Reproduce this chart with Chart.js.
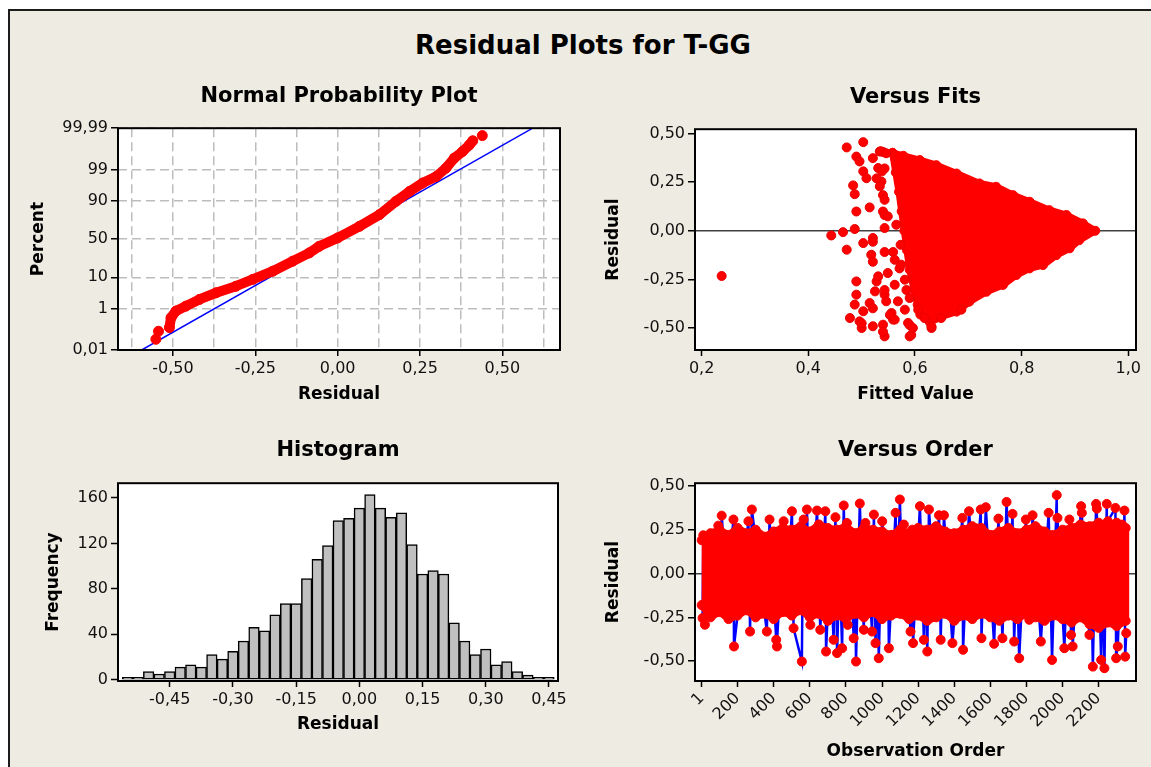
<!DOCTYPE html>
<html>
<head>
<meta charset="utf-8">
<title>Residual Plots for T-GG</title>
<script src="https://cdn.jsdelivr.net/npm/chart.js@4.4.1/dist/chart.umd.min.js"></script>
<style>
  html, body { margin:0; padding:0; background:#fff; }
  body { width:1151px; height:767px; overflow:hidden; position:relative; font-family:'DejaVu Sans', Verdana, sans-serif; }
  #frame { position:absolute; left:8px; top:9px; width:1160px; height:780px; border:2px solid #1c1c1c; background:#EEEBE2; }
  #title { position:absolute; left:8px; width:1150px; top:29px; text-align:center; font-size:26px; font-weight:bold; line-height:32px; color:#000; }
  canvas { position:absolute; }
</style>
</head>
<body>
<div id="frame"></div>
<div id="title">Residual Plots for T-GG</div>
<canvas id="npp" width="547" height="327" style="left:28px;top:78px"></canvas>
<canvas id="fits" width="548" height="327" style="left:603px;top:78px"></canvas>
<canvas id="hist" width="530" height="302" style="left:43px;top:433px"></canvas>
<canvas id="order" width="548" height="329" style="left:603px;top:433px"></canvas>
<script>
// ---- normal probability plot (residual vs percent)
const nppResid = [-0.552, -0.544, -0.511, -0.506, -0.491, -0.461, -0.420, -0.369, -0.309, -0.258, -0.197, -0.137, -0.086, -0.056, 0.000, 0.066, 0.127, 0.177, 0.218, 0.258, 0.299, 0.329, 0.354, 0.379, 0.400, 0.410, 0.439];
const nppPct = [0.039, 0.10, 0.15, 0.42, 0.79, 1.23, 2.15, 3.6, 5.7, 8.8, 14.1, 22.9, 32.2, 40.5, 51.6, 66.6, 79.4, 89.7, 94.5, 97.0, 98.2, 99.14, 99.67, 99.834, 99.921, 99.951, 99.974];
const fitLineResid = [-0.595, 0.592];
const fitLinePct = [0.01, 99.99];
const pctTicks = [0.01, 1, 10, 50, 90, 99, 99.99];
const pctLabels = ['0,01', '1', '10', '50', '90', '99', '99,99'];
const nppXTicks = [-0.625, -0.5, -0.375, -0.25, -0.125, 0, 0.125, 0.25, 0.375, 0.5, 0.625];

// ---- versus fits
const fitsX = [0.2375, 0.443, 0.465, 0.472, 0.487, 0.503, 0.521, 0.518, 0.503, 0.472, 0.490, 0.496, 0.503, 0.509, 0.484, 0.487,
  0.521, 0.534, 0.531, 0.537, 0.515, 0.490, 0.540, 0.543, 0.543, 0.559, 0.549, 0.490, 0.528, 0.490, 0.525,
  0.487, 0.515, 0.543, 0.503, 0.478, 0.496, 0.500, 0.521, 0.540, 0.543, 0.556, 0.559, 0.587, 0.590,
  0.631, 0.606, 0.618, 0.649, 0.687, 0.528, 0.540, 0.543, 0.521, 0.521, 0.571, 0.543, 0.584, 0.521,
  0.553, 0.590, 0.593, 0.540, 0.631, 0.540, 0.543, 0.500,
  0.536, 0.546, 0.538, 0.534, 0.543, 0.549, 0.565, 0.573, 0.562, 0.574, 0.562, 0.581, 0.590, 0.568, 0.581, 0.546, 0.531, 0.562, 0.596];
const fitsY = [-0.232, -0.024, -0.007, -0.097, 0.009, -0.063, -0.037, -0.123, 0.455, 0.428, 0.381, 0.356, 0.305, 0.270, 0.233, 0.188,
  0.373, 0.407, 0.322, 0.253, 0.120, 0.099, 0.099, 0.014, -0.109, -0.109, -0.217, -0.260, -0.260, -0.328, -0.311,
  -0.379, -0.371, -0.328, -0.413, -0.448, -0.465, -0.499, -0.490, -0.482, -0.542, -0.422, -0.456, -0.473, -0.542,
  -0.499, -0.405, -0.448, -0.448, -0.405, 0.269, 0.183, 0.081, -0.056, -0.159, -0.193, -0.304, -0.304, -0.398,
  -0.432, -0.484, -0.535, -0.518, -0.492, 0.405, 0.320, -0.475,
  0.408, 0.398, 0.305, 0.228, 0.159, 0.074, 0.031, -0.072, -0.149, -0.174, -0.277, -0.251, -0.345, -0.362, -0.405, -0.362, -0.234, -0.456, -0.499];
// outline of the dense cloud of fitted values
const cloudX = [0.558, 0.578, 0.609, 0.640, 0.678, 0.721, 0.752, 0.784, 0.815, 0.852, 0.884, 0.915, 0.938,
  0.908, 0.890, 0.865, 0.840, 0.815, 0.790, 0.765, 0.734, 0.702, 0.678, 0.650, 0.628, 0.610,
  0.605, 0.598, 0.590, 0.585, 0.580, 0.575, 0.570, 0.564, 0.558];
const cloudY = [0.400, 0.385, 0.363, 0.337, 0.294, 0.243, 0.226, 0.183, 0.149, 0.106, 0.081, 0.038, 0.000,
  -0.048, -0.090, -0.125, -0.176, -0.193, -0.227, -0.278, -0.313, -0.364, -0.415, -0.440, -0.470, -0.430,
  -0.380, -0.300, -0.200, -0.100, 0.000, 0.100, 0.200, 0.300, 0.400];

// ---- histogram
const histBins = [-0.55, -0.525, -0.5, -0.475, -0.45, -0.425, -0.4, -0.375, -0.35, -0.325, -0.3, -0.275, -0.25, -0.225, -0.2, -0.175, -0.15, -0.125, -0.1, -0.075, -0.05, -0.025,
  0, 0.025, 0.05, 0.075, 0.1, 0.125, 0.15, 0.175, 0.2, 0.225, 0.25, 0.275, 0.3, 0.325, 0.35, 0.375, 0.4, 0.425, 0.45];
const histCounts = [2, 2, 7, 5, 7, 11, 13, 11, 22, 18, 25, 34, 46, 43, 57, 67, 67, 89, 106, 118, 140, 142,
  151, 163, 151, 143, 147, 119, 93, 96, 93, 50, 34, 22, 27, 13, 16, 7, 4, 2, 2];
const histXTicks = [-0.45, -0.3, -0.15, 0, 0.15, 0.3, 0.45];
const histYTicks = [0, 40, 80, 120, 160];

// ---- versus order
const orderObs = [6, 10, 19, 56, 93, 102, 112, 140, 177, 180, 260, 269, 279, 362, 377, 414, 416, 418, 455, 478, 501, 510, 556, 561, 566, 575, 584,
  603, 640, 658, 686, 690, 711, 732, 742, 751, 765, 779, 788, 797, 806, 810, 826, 843, 850, 856, 877, 899, 908, 945, 955, 964, 973, 982,
  1001, 1029, 1033, 1038, 1075, 1087, 1099, 1110, 1121, 1158, 1168, 1172, 1210, 1232, 1241, 1251, 1260, 1288, 1316, 1325, 1343, 1390,
  1445, 1449, 1482, 1515, 1547, 1551, 1575, 1621, 1645, 1667, 1690, 1707, 1723, 1732, 1746, 1760, 1797, 1816, 1834, 1880, 1923, 1942,
  1968, 1970, 1972, 2010, 2038, 2047, 2051, 2056, 2103, 2105, 2107, 2149, 2158, 2168, 2186, 2188, 2190, 2214, 2223, 2232, 2245, 2248,
  2251, 2293, 2297, 2301, 2306, 2330, 2336, 2343, 2347, 2353];
const orderRes = [-0.254, 0.218, -0.292, 0.02, 0.273, -0.06, 0.330, -0.10, 0.308, -0.416, 0.298, -0.331, 0.365, -0.331, 0.308, -0.378, 0.10, -0.416, 0.298, -0.05, 0.355, -0.312, -0.502, 0.08, 0.308, -0.02, 0.365,
  -0.293, 0.359, -0.321, 0.355, -0.445, 0.06, -0.378, 0.321, -0.454, 0.05, -0.426, 0.388, -0.04, 0.288, -0.293, 0.07, -0.369, 0.03, -0.502, 0.399, -0.321, 0.288, -0.331, 0.336, -0.397, 0.09, -0.483,
  0.298, -0.235, 0.04, -0.426, 0.346, -0.03, 0.422, 0.01, 0.279, -0.331, 0.250, -0.397, 0.384, -0.378, 0.06, -0.445, 0.365, -0.05, 0.332, -0.378, 0.332, -0.397,
  0.317, -0.435, 0.355, -0.08, 0.365, -0.369, 0.378, -0.401, 0.313, -0.369, 0.408, -0.02, 0.340, -0.388, 0.05, -0.483, 0.308, -0.264, 0.332, -0.388, 0.346, -0.493,
  0.447, -0.06, 0.317, -0.426, 0.308, -0.350, 0.02, -0.416, 0.384, 0.02, 0.346, -0.350, 0.05, -0.531, 0.397, -0.01, 0.370, -0.493, 0.07, -0.540, 0.397, 0.03,
  0.298, 0.374, -0.483, 0.04, -0.416, 0.279, -0.02, 0.359, -0.474, -0.340];
// edges of the dense band of residuals
const bandObs = [1, 50, 100, 150, 200, 250, 300, 350, 400, 450, 500, 550, 600, 650, 700, 750, 800, 850, 900, 950, 1000, 1050, 1100, 1150,
  1200, 1250, 1300, 1350, 1400, 1450, 1500, 1550, 1600, 1650, 1700, 1750, 1800, 1850, 1900, 1950, 2000, 2050, 2100, 2150, 2200, 2250, 2300, 2350];
const bandUpper = [0.19, 0.23, 0.25, 0.22, 0.26, 0.23, 0.25, 0.21, 0.24, 0.26, 0.25, 0.27, 0.24, 0.28, 0.26, 0.25, 0.27, 0.23, 0.26, 0.25, 0.24, 0.22, 0.25, 0.23,
  0.26, 0.25, 0.27, 0.24, 0.23, 0.25, 0.27, 0.26, 0.22, 0.24, 0.26, 0.23, 0.25, 0.27, 0.24, 0.22, 0.25, 0.26, 0.28, 0.27, 0.29, 0.28, 0.29, 0.26];
const bandLower = [-0.18, -0.25, -0.22, -0.26, -0.24, -0.21, -0.25, -0.23, -0.26, -0.22, -0.24, -0.21, -0.25, -0.23, -0.27, -0.24, -0.26, -0.23, -0.25, -0.22, -0.26, -0.24, -0.23, -0.26,
  -0.24, -0.27, -0.25, -0.23, -0.27, -0.24, -0.26, -0.23, -0.25, -0.27, -0.24, -0.26, -0.23, -0.25, -0.27, -0.24, -0.26, -0.28, -0.25, -0.29, -0.31, -0.28, -0.30, -0.27];
const orderXTicks = [1, 200, 400, 600, 800, 1000, 1200, 1400, 1600, 1800, 2000, 2200];
const resTicks = [-0.5, -0.25, 0, 0.25, 0.5];
const fitsXTicks = [0.2, 0.4, 0.6, 0.8, 1.0];

const RED = '#FF0000';
const BLUE = '#0000FF';

Chart.defaults.font.family = "'DejaVu Sans', Verdana, sans-serif";
Chart.defaults.font.size = 16;
Chart.defaults.color = '#111';
Chart.defaults.animation = false;

// inverse normal cdf, used for the probability axis
function probit(p) {
    const a = [-39.69683028665376, 220.9460984245205, -275.9285104469687, 138.3577518672690, -30.66479806614716, 2.506628277459239];
    const b = [-54.47609879822406, 161.5858368580409, -155.6989798598866, 66.80131188771972, -13.28068155288572];
    const c = [-0.007784894002430293, -0.3223964580411365, -2.400758277161838, -2.549732539343734, 4.374664141464968, 2.938163982698783];
    const d = [0.007784695709041462, 0.3224671290700398, 2.445134137142996, 3.754408661907416];
    let q, r;
    if (p < 0.02425) {
        q = Math.sqrt(-2 * Math.log(p));
        return (((((c[0]*q+c[1])*q+c[2])*q+c[3])*q+c[4])*q+c[5]) / ((((d[0]*q+d[1])*q+d[2])*q+d[3])*q+1);
    }
    if (p > 1 - 0.02425) {
        q = Math.sqrt(-2 * Math.log(1 - p));
        return -(((((c[0]*q+c[1])*q+c[2])*q+c[3])*q+c[4])*q+c[5]) / ((((d[0]*q+d[1])*q+d[2])*q+d[3])*q+1);
    }
    q = p - 0.5; r = q * q;
    return (((((a[0]*r+a[1])*r+a[2])*r+a[3])*r+a[4])*r+a[5])*q / (((((b[0]*r+b[1])*r+b[2])*r+b[3])*r+b[4])*r+1);
}

function fmt(v, dec) {
    if (Math.abs(v) < 1e-9) v = 0;
    return v.toFixed(dec).replace('.', ',');
}

function pairs(xs, ys) {
    const out = [];
    for (var i = 0; i < xs.length; i++) out.push({x: xs[i], y: ys[i]});
    return out;
}

// white plot area and black box round it
const plotBox = {
    id: 'plotBox',
    beforeDraw(chart) {
        const a = chart.chartArea, ctx = chart.ctx;
        ctx.save();
        ctx.fillStyle = '#fff';
        ctx.fillRect(a.left, a.top, a.right - a.left, a.bottom - a.top);
        ctx.restore();
    },
    afterDraw(chart) {
        const a = chart.chartArea, ctx = chart.ctx;
        ctx.save();
        ctx.lineWidth = 2;
        ctx.strokeStyle = '#000';
        ctx.strokeRect(a.left, a.top, a.right - a.left, a.bottom - a.top);
        ctx.restore();
    }
};

function panelOptions(title, padTop, padBottom, yWidth, xHeight) {
    return {
        responsive: false,
        devicePixelRatio: 1,
        layout: {padding: {left: 0, right: 15, top: 0, bottom: 0}},
        plugins: {
            legend: {display: false},
            tooltip: {enabled: false},
            title: {display: true, text: title, fullSize: false, color: '#000',
                font: {size: 21, weight: 'bold'}, padding: {top: padTop, bottom: padBottom}}
        },
        scales: {
            x: {type: 'linear', offset: false, afterFit: s => { s.height = xHeight; },
                border: {display: false},
                grid: {offset: false, drawOnChartArea: false, tickLength: 6, tickColor: '#000', tickWidth: 1.5},
                ticks: {autoSkip: false, maxRotation: 0, padding: 3},
                title: {display: true, color: '#000', font: {size: 17, weight: 'bold'}, padding: {top: 0, bottom: 0}}},
            y: {type: 'linear', afterFit: s => { s.width = yWidth; },
                border: {display: false},
                grid: {drawOnChartArea: false, tickLength: 7, tickColor: '#000', tickWidth: 1.5},
                ticks: {autoSkip: false, padding: 3},
                title: {display: true, color: '#000', font: {size: 17, weight: 'bold'}, padding: {top: 0, bottom: 0}}}
        }
    };
}

// Normal Probability Plot
function showNpp() {
    const opt = panelOptions('Normal Probability Plot', 6, 19, 90, 55);
    const isMajor = v => Math.abs(v * 4 - Math.round(v * 4)) < 1e-6;
    Object.assign(opt.scales.x, {min: -0.667, max: 0.675,
        afterBuildTicks: s => { s.ticks = nppXTicks.map(v => ({value: v})); }});
    opt.scales.x.ticks.callback = v => isMajor(v) ? fmt(v, 2) : '';
    opt.scales.x.grid = {drawOnChartArea: true, color: '#BDBDBD', lineWidth: 1.5, tickLength: 6, tickWidth: 1.5,
        tickColor: c => (c.tick && isMajor(c.tick.value)) ? '#000' : 'transparent'};
    opt.scales.x.border = {display: false, dash: [9, 5]};
    opt.scales.x.title.text = 'Residual';
    Object.assign(opt.scales.y, {min: probit(0.0001), max: probit(0.9999),
        afterBuildTicks: s => { s.ticks = pctTicks.map(p => ({value: probit(p / 100)})); }});
    opt.scales.y.ticks.callback = (v, i) => pctLabels[i];
    opt.scales.y.grid = {drawOnChartArea: true, color: '#BDBDBD', lineWidth: 1.5, tickLength: 7, tickWidth: 1.5, tickColor: '#000'};
    opt.scales.y.border = {display: false, dash: [9, 5]};
    opt.scales.y.title.text = 'Percent';
    const n = nppResid.length;
    new Chart(document.getElementById('npp'), {
        type: 'scatter',
        data: {datasets: [
            {data: nppResid.map((r, i) => ({x: r, y: probit(nppPct[i] / 100)})), showLine: true,
                borderColor: RED, borderWidth: 10, borderJoinStyle: 'round', borderCapStyle: 'round',
                segment: {borderColor: c => (c.p0DataIndex < 2 || c.p1DataIndex > n - 2) ? 'transparent' : RED},
                pointRadius: 5, pointBackgroundColor: RED, pointBorderColor: RED, pointBorderWidth: 1, order: 1},
            {data: fitLineResid.map((r, i) => ({x: r, y: probit(fitLinePct[i] / 100)})), showLine: true,
                borderColor: BLUE, borderWidth: 1.5, pointRadius: 0, order: 2}
        ]},
        options: opt,
        plugins: [plotBox]
    });
}

// Versus Fits
function showFits() {
    const opt = panelOptions('Versus Fits', 7, 19, 92, 55);
    Object.assign(opt.scales.x, {min: 0.1875, max: 1.0144,
        afterBuildTicks: s => { s.ticks = fitsXTicks.map(v => ({value: v})); }});
    opt.scales.x.ticks.callback = v => fmt(v, 1);
    opt.scales.x.title.text = 'Fitted Value';
    Object.assign(opt.scales.y, {min: -0.612, max: 0.5215,
        afterBuildTicks: s => { s.ticks = resTicks.map(v => ({value: v})); }});
    opt.scales.y.ticks.callback = v => fmt(v, 2);
    opt.scales.y.grid.drawOnChartArea = true;
    opt.scales.y.grid.lineWidth = 1.5;
    opt.scales.y.grid.color = c => (c.tick && Math.abs(c.tick.value) < 1e-9) ? '#404040' : 'transparent';
    opt.scales.y.title.text = 'Residual';
    new Chart(document.getElementById('fits'), {
        type: 'scatter',
        data: {datasets: [
            {data: pairs(fitsX, fitsY), pointRadius: 4.5, pointBackgroundColor: RED, pointBorderColor: '#E80000', pointBorderWidth: 1, order: 1},
            {data: pairs(cloudX, cloudY), showLine: true, fill: 'shape', backgroundColor: RED,
                borderColor: RED, borderWidth: 7, borderJoinStyle: 'round',
                pointRadius: 4.5, pointBackgroundColor: RED, pointBorderColor: RED, pointBorderWidth: 1, order: 2}
        ]},
        options: opt,
        plugins: [plotBox]
    });
}

// Histogram
function showHist() {
    const opt = panelOptions('Histogram', 5, 20, 75, 54);
    Object.assign(opt.scales.x, {min: -0.5727, max: 0.4714,
        afterBuildTicks: s => { s.ticks = histXTicks.map(v => ({value: v})); }});
    opt.scales.x.ticks.callback = v => fmt(v, 2);
    opt.scales.x.title.text = 'Residual';
    Object.assign(opt.scales.y, {min: -1.2, max: 173,
        afterBuildTicks: s => { s.ticks = histYTicks.map(v => ({value: v})); }});
    opt.scales.y.title.text = 'Frequency';
    new Chart(document.getElementById('hist'), {
        type: 'bar',
        data: {datasets: [{
            data: pairs(histBins, histCounts),
            backgroundColor: '#C0C0C0', borderColor: '#000', borderWidth: 1.5, borderSkipped: false,
            barPercentage: 1, categoryPercentage: 1
        }]},
        options: opt,
        plugins: [plotBox]
    });
}

// Versus Order
function showOrder() {
    const opt = panelOptions('Versus Order', 5, 20, 92, 81);
    Object.assign(opt.scales.x, {min: -36, max: 2407,
        afterBuildTicks: s => { s.ticks = orderXTicks.map(v => ({value: v})); }});
    opt.scales.x.ticks = {autoSkip: false, minRotation: 45, maxRotation: 45, padding: 2, callback: v => String(v)};
    opt.scales.x.title.text = 'Observation Order';
    Object.assign(opt.scales.y, {min: -0.613, max: 0.515,
        afterBuildTicks: s => { s.ticks = resTicks.map(v => ({value: v})); }});
    opt.scales.y.ticks.callback = v => fmt(v, 2);
    opt.scales.y.grid.drawOnChartArea = true;
    opt.scales.y.grid.lineWidth = 1.5;
    opt.scales.y.grid.color = c => (c.tick && Math.abs(c.tick.value) < 1e-9) ? '#404040' : 'transparent';
    opt.scales.y.title.text = 'Residual';
    const band = pairs(bandObs, bandUpper).concat(pairs(bandObs.slice().reverse(), bandLower.slice().reverse()));
    new Chart(document.getElementById('order'), {
        type: 'scatter',
        data: {datasets: [
            {data: pairs(orderObs, orderRes), pointRadius: 4.5, pointBackgroundColor: RED, pointBorderColor: RED, pointBorderWidth: 1, order: 1},
            {data: band, showLine: true, fill: 'shape', backgroundColor: RED, borderColor: RED, borderWidth: 7,
                borderJoinStyle: 'round', pointRadius: 4.5, pointBackgroundColor: RED, pointBorderColor: RED, pointBorderWidth: 1, order: 2},
            {data: pairs(orderObs, orderRes), showLine: true, borderColor: BLUE, borderWidth: 2.5, pointRadius: 0, order: 3}
        ]},
        options: opt,
        plugins: [plotBox]
    });
}

showNpp();
showFits();
showHist();
showOrder();
</script>
</body>
</html>
